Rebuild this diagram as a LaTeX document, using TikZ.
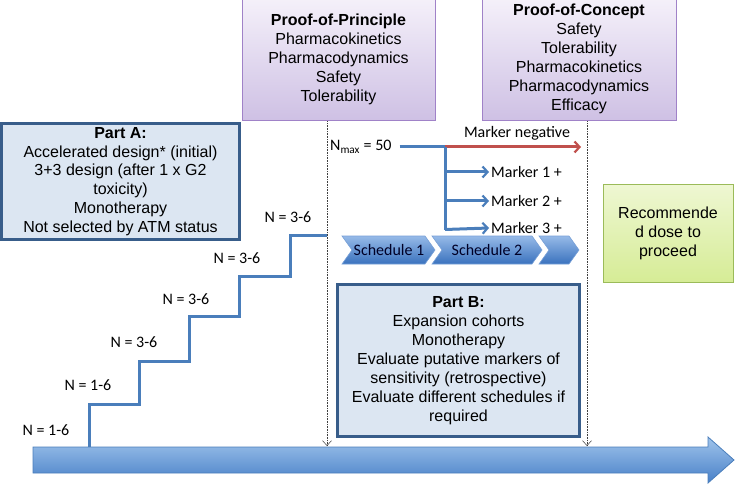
\documentclass[tikz,border=0pt]{standalone}
\usepackage{fontspec}
\setmainfont{Liberation Sans}
\newfontfamily\calib{Carlito}
\usetikzlibrary{arrows.meta}
\definecolor{pborder}{RGB}{160,130,200}
\definecolor{ptop}{RGB}{245,241,250}
\definecolor{pbot}{RGB}{206,192,228}
\definecolor{bfill}{RGB}{220,230,242}
\definecolor{bborder}{RGB}{56,93,138}
\definecolor{lineblue}{RGB}{74,126,187}
\definecolor{mred}{RGB}{192,80,77}
\definecolor{gtop}{RGB}{238,247,210}
\definecolor{gbot}{RGB}{214,236,150}
\definecolor{gborder}{RGB}{155,187,89}
\definecolor{atop}{RGB}{160,196,235}
\definecolor{abot}{RGB}{72,128,200}
\definecolor{aborder}{RGB}{74,126,187}
\definecolor{ctop}{RGB}{150,186,232}
\definecolor{cbot}{RGB}{58,114,190}
\definecolor{cborder}{RGB}{120,160,215}
\begin{document}
\begin{tikzpicture}[x=1pt,y=-1pt,
  txt/.style={font=\fontsize{16}{19}\selectfont, align=center, inner sep=0pt},
  caltxt/.style={font=\calib\fontsize{16}{19}\selectfont, inner sep=0pt},
  purplebox/.style={txt, draw=pborder, line width=1pt, top color=ptop, bottom color=pbot},
  bluebox/.style={txt, draw=bborder, line width=2.5pt, fill=bfill},
  greenbox/.style={txt, draw=gborder, line width=1pt, top color=gtop, bottom color=gbot},
  dotline/.style={densely dotted, line width=0.6pt, draw=black!75, -{Straight Barb[length=5pt,width=9pt,line width=0.5pt]}},
  blueline/.style={draw=lineblue, line width=3pt},
  bluearr/.style={blueline, -{Straight Barb[length=5pt,width=11pt,line width=2.2pt]}},
  redarr/.style={draw=mred, line width=3pt, -{Straight Barb[length=5pt,width=11pt,line width=2.2pt]}},
  chev/.style={draw=cborder, line width=0.6pt, top color=ctop, bottom color=cbot},
]
\useasboundingbox (0,0) rectangle (735,486);

% big timeline arrow
\draw[draw=aborder, line width=0.8pt, top color=atop, bottom color=abot]
  (33,447) -- (708,447) -- (708,437) -- (734,460) -- (708,483) -- (708,473) -- (33,473) -- cycle;

% top boxes
\node[purplebox, minimum width=193pt, minimum height=124pt] (pop) at (338.5,59)
  {\textbf{Proof-of-Principle}\\Pharmacokinetics\\Pharmacodynamics\\Safety\\Tolerability};
\node[purplebox, minimum width=194pt, minimum height=124pt] (poc) at (579,59)
  {\textbf{Proof-of-Concept}\\Safety\\Tolerability\\Pharmacokinetics\\Pharmacodynamics\\Efficacy};

% dotted guide lines
\coordinate (d1) at (327,446);
\coordinate (d2) at (587,446);
\draw[dotline] (pop.south -| d1) -- (d1);
\draw[dotline] (poc.south -| d2) -- (d2);

% Part A
\node[bluebox, minimum width=238pt, minimum height=116pt,
  font=\fontsize{16}{18.7}\selectfont] (parta) at (120.5,181.5)
  {\textbf{Part A:}\\Accelerated design* (initial)\\3+3 design (after 1 x G2\\toxicity)\\Monotherapy\\Not selected by ATM status};

% Part B
\node[bluebox, minimum width=242pt, minimum height=152pt] (partb) at (458.5,360.5)
  {\textbf{Part B:}\\Expansion cohorts\\Monotherapy\\Evaluate putative markers of\\sensitivity (retrospective)\\Evaluate different schedules if\\required};

% Recommended dose
\node[greenbox, minimum width=130pt, minimum height=97pt] (rec) at (668,233.5)
  {Recommende\\d dose to\\proceed};

% staircase
\coordinate (s0) at (89,447);
\coordinate (s5) at (327,235);
\draw[blueline] (s0) -- (89,404) -- (139,404) -- (139,361) -- (189,361) -- (189,316)
  -- (239,316) -- (239,276) -- (290,276) -- (290,235) -- (s5);
\node[caltxt] (n1) at (46,430) {N = 1-6};
\node[caltxt] (n2) at (88,385) {N = 1-6};
\node[caltxt] (n3) at (134,342) {N = 3-6};
\node[caltxt] (n4) at (186,299) {N = 3-6};
\node[caltxt] (n5) at (237,258) {N = 3-6};
\node[caltxt] (n6) at (288,217) {N = 3-6};

% markers
\node[caltxt, anchor=west] (nmax) at (330,147) {N\textsubscript{max} = 50};
\coordinate (split) at (445,147);
\coordinate (negend) at (581,147);
\coordinate (vend) at (445,230);
\draw[blueline] ([xshift=8pt]nmax.east) -- (split);
\draw[redarr] (split) -- (negend);
\node[caltxt] (mneg) at (517,133) {Marker negative};
\node[caltxt, anchor=west] (m1) at (491,172) {Marker 1 +};
\node[caltxt, anchor=west] (m2) at (491,201) {Marker 2 +};
\node[caltxt, anchor=west] (m3) at (491,228) {Marker 3 +};
\draw[blueline] (split) -- (vend);
\draw[bluearr] (split |- m1) -- ([xshift=-2pt]m1.west);
\draw[bluearr] (split |- m2) -- ([xshift=-2pt]m2.west);
\draw[bluearr] ([yshift=-1.5pt]split |- m3) -- ([xshift=-2pt]m3.west);

% schedule chevrons
\draw[chev] (342,236) -- (425,236) -- (435,250) -- (425,264) -- (342,264) -- (352,250) -- cycle;
\draw[chev] (432,236) -- (532,236) -- (542,250) -- (532,264) -- (432,264) -- (442,250) -- cycle;
\draw[chev] (539,236) -- (569,236) -- (579,250) -- (569,264) -- (539,264) -- (549,250) -- cycle;
\node[caltxt, text=black!85!blue] (sc1) at (389,250) {Schedule 1};
\node[caltxt, text=black!85!blue] (sc2) at (487,250) {Schedule 2};
\end{tikzpicture}
\end{document}
